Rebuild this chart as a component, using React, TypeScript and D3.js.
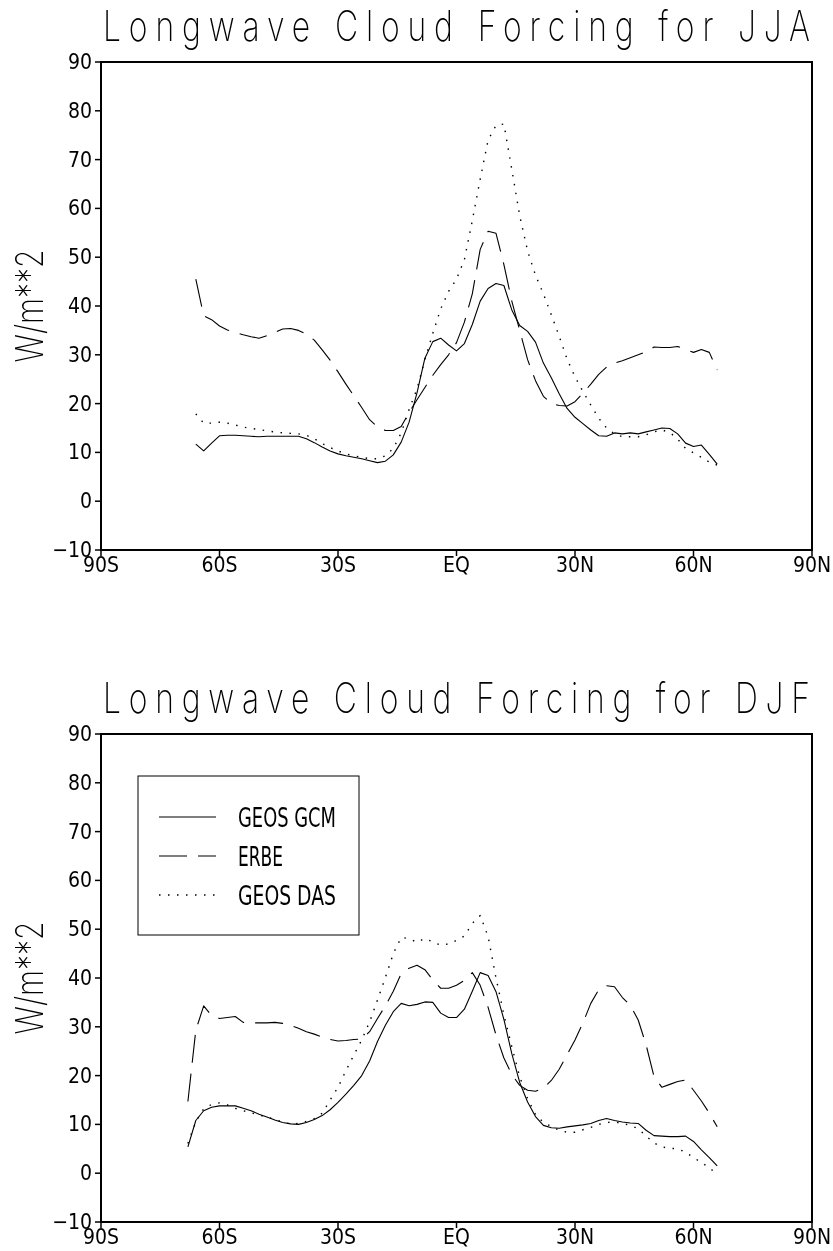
import React from "react";
import * as d3 from "d3";

// latitude grids (deg, S negative)
const latJJA = [
  -66, -64, -62, -60, -58, -56, -54, -52, -50, -48, -46, -44, -42, -40,
  -38, -36, -34, -32, -30, -28, -26, -24, -22, -20,
  -18, -16, -14, -12, -10, -8, -6, -4, -2, 0,
  2, 4, 6, 8, 10, 12, 14, 16, 18, 20,
  22, 24, 26, 28, 30, 32, 34, 36, 38, 40,
  42, 44, 46, 48, 50, 52, 54, 56, 58, 60, 62, 64, 66,
];
const gcmJJA = [
  11.7, 10.3, 11.9, 13.4, 13.5, 13.5, 13.4, 13.3, 13.2, 13.3, 13.3, 13.3, 13.3, 13.3,
  12.8, 12.0, 11.1, 10.3, 9.7, 9.3, 9.0, 8.7, 8.3, 7.9,
  8.2, 9.5, 12.1, 16.2, 22.2, 29.3, 32.7, 33.4, 32.0, 30.8,
  32.3, 36.2, 41.0, 43.6, 44.6, 44.2, 39.2, 36.0, 34.8, 32.6,
  28.3, 25.3, 22.0, 19.0, 17.2, 15.9, 14.6, 13.4, 13.3, 14.0,
  13.8, 14.0, 13.8, 14.2, 14.6, 15.0, 14.9, 13.8, 11.9, 11.2, 11.5, 9.6, 7.6,
];
const erbeJJA = [
  45.5, 38.0, 37.2, 35.9, 35.1, 34.6, 34.1, 33.7, 33.4, 33.9, 34.6, 35.3, 35.4, 35.0,
  34.2, 33.0, 31.0, 28.9, 26.5, 24.0, 21.6, 19.2, 16.7, 15.2,
  14.5, 14.5, 15.3, 18.2, 20.8, 23.3, 25.8, 28.0, 30.0, 32.5,
  36.7, 42.5, 51.6, 55.3, 54.9, 48.5, 41.0, 35.0, 29.0, 24.7,
  21.5, 20.0, 19.6, 19.5, 20.4, 22.1, 24.0, 26.0, 27.5, 28.3,
  28.8, 29.4, 30.0, 30.6, 31.6, 31.5, 31.5, 31.7, 31.1, 30.5, 31.1, 30.5, 26.9,
];
const dasJJA = [
  17.9, 16.0, 16.0, 16.2, 16.0, 15.6, 15.2, 14.9, 14.7, 14.4, 14.2, 14.0, 13.9, 13.8,
  13.5, 12.8, 11.8, 11.0, 10.3, 9.7, 9.3, 9.0, 8.7, 8.7,
  9.3, 10.8, 14.0, 18.8, 23.0, 29.0, 34.4, 39.4, 43.0, 45.5,
  49.5, 57.5, 66.0, 74.0, 77.0, 77.3, 68.0, 58.5, 51.3, 46.3,
  42.5, 38.2, 33.8, 29.1, 25.5, 22.5, 19.7, 17.0, 15.0, 13.8,
  13.2, 13.2, 13.2, 13.6, 14.2, 14.6, 14.1, 12.7, 10.8, 9.9, 9.0, 8.0, 7.4,
];

const latDJF = [
  -68, -66, -64, -62, -60, -58, -56, -54, -52, -50, -48, -46, -44, -42,
  -40, -38, -36, -34, -32, -30, -28, -26, -24, -22,
  -20, -18, -16, -14, -12, -10, -8, -6, -4, -2,
  0, 2, 4, 6, 8, 10, 12, 14, 16, 18,
  20, 22, 24, 26, 28, 30, 32, 34, 36, 38,
  40, 42, 44, 46, 48, 50, 52, 54, 56, 58, 60, 62, 64, 66,
];
const gcmDJF = [
  5.4, 10.8, 12.8, 13.5, 13.8, 13.8, 13.8, 13.3, 12.8, 12.1, 11.5, 10.9, 10.4, 10.1,
  10.0, 10.4, 11.0, 11.8, 13.0, 14.5, 16.2, 18.0, 20.0, 23.0,
  27.0, 30.3, 33.1, 34.8, 34.3, 34.6, 35.1, 35.0, 32.8, 31.9,
  31.9, 33.6, 37.3, 41.1, 40.5, 37.2, 31.5, 24.5, 18.6, 14.6,
  11.6, 9.8, 9.3, 9.2, 9.5, 9.7, 9.9, 10.2, 10.8, 11.2,
  10.8, 10.5, 10.3, 10.2, 8.8, 7.7, 7.6, 7.5, 7.5, 7.6, 6.5, 4.8, 3.2, 1.5,
];
const erbeDJF = [
  14.7, 29.3, 34.3, 32.3, 31.7, 31.9, 32.1, 30.9, 30.8, 30.8, 30.8, 30.9, 30.7, 30.3,
  29.7, 29.0, 28.5, 27.9, 27.4, 27.1, 27.2, 27.4, 27.5, 29.0,
  31.7, 34.3, 37.3, 40.9, 42.0, 42.6, 41.7, 39.6, 37.9, 37.9,
  38.5, 39.5, 41.1, 38.5, 34.0, 28.3, 23.6, 20.2, 18.0, 17.0,
  16.8, 17.4, 19.0, 21.3, 24.3, 27.3, 30.8, 34.8, 37.6, 38.4,
  38.2, 36.0, 34.4, 31.4, 26.3, 19.8, 17.6, 18.2, 18.8, 19.1, 17.0, 14.8, 12.3, 9.5,
];
const dasDJF = [
  6.1, 10.5, 13.2, 14.1, 14.4, 14.0, 13.3, 12.8, 12.4, 11.9, 11.5, 11.0, 10.5, 10.1,
  10.2, 10.6, 11.2, 12.3, 15.0, 17.6, 21.0, 24.2, 27.3, 31.0,
  35.5, 40.1, 45.0, 48.3, 48.1, 47.3, 48.1, 47.4, 46.7, 47.0,
  47.7, 48.6, 51.2, 52.8, 48.5, 40.0, 32.5, 25.9, 19.8, 15.3,
  12.0, 10.4, 9.6, 8.8, 8.4, 8.4, 8.9, 9.4, 10.0, 10.4,
  10.5, 10.2, 9.8, 9.1, 7.6, 6.2, 5.4, 5.1, 5.0, 4.3, 3.2, 2.2, 1.1, -0.2,
];

const seriesNames = ["GEOS GCM", "ERBE", "GEOS DAS"];
const xTicks = [-90, -60, -30, 0, 30, 60, 90];
const xTickLabels = ["90S", "60S", "30S", "EQ", "30N", "60N", "90N"];
const yTicks = [-10, 0, 10, 20, 30, 40, 50, 60, 70, 80, 90];

const W = 833;
const H = 1251;
const dashes = ["none", "28 11", "1.5 7.5"];
const tickFont = "'Liberation Sans Narrow', 'DejaVu Sans Condensed', sans-serif";
const thinFont = "Inter, Roboto, Lato, 'DejaVu Sans', sans-serif";

const x = d3.scaleLinear().domain([-90, 90]).range([101, 812]);

function Panel({ top, title, lats, series, legend }) {
  const y = d3.scaleLinear().domain([-10, 90]).range([top + 488, top]);
  const line = d3
    .line<number>()
    .x((_, i) => x(lats[i]))
    .y((v) => y(v));
  const x0 = x(-90);
  const x1 = x(90);
  const yMid = (y(90) + y(-10)) / 2;

  return (
    <g>
      <g transform={`translate(${x0 + 2},${top - 21}) scale(0.76,1)`}>
        <text
          x={0}
          y={0}
          fontFamily={thinFont}
          fontWeight={200}
          fontSize={42}
          fill="#000"
          textLength={(x1 - x0 - 4) / 0.76}
          lengthAdjust="spacing"
        >
          {title}
        </text>
      </g>
      <g transform={`translate(43,${yMid}) rotate(-90) scale(0.8,1)`}>
        <text
          x={0}
          y={0}
          textAnchor="middle"
          fontFamily={thinFont}
          fontWeight={200}
          fontSize={38}
          textLength={113 / 0.8}
          lengthAdjust="spacingAndGlyphs"
        >
          W/m**2
        </text>
      </g>

      {series.map((vals, k) => (
        <path
          key={k}
          d={line(vals) || ""}
          fill="none"
          stroke="#000"
          strokeWidth={k === 2 ? 1.4 : 1.1}
          strokeDasharray={dashes[k]}
          strokeLinejoin="round"
        />
      ))}

      <rect x={x0} y={y(90)} width={x1 - x0} height={y(-10) - y(90)} fill="none" stroke="#000" strokeWidth={2} />

      {yTicks.map((t) => (
        <g key={t}>
          <line x1={x0 - 6} x2={x0} y1={y(t)} y2={y(t)} stroke="#000" strokeWidth={1.5} />
          <text
            x={x0 - 9}
            y={y(t) + 7}
            textAnchor="end"
            fontFamily={tickFont}
            fontSize={21}
          >
            {t < 0 ? `\u2212${-t}` : t}
          </text>
        </g>
      ))}
      {xTicks.map((t, i) => (
        <g key={t}>
          <line x1={x(t)} x2={x(t)} y1={y(-10)} y2={y(-10) + 6} stroke="#000" strokeWidth={1.5} />
          <text
            x={x(t)}
            y={y(-10) + 22}
            textAnchor="middle"
            fontFamily={tickFont}
            fontSize={21}
          >
            {xTickLabels[i]}
          </text>
        </g>
      ))}

      {legend && (
        <g>
          <rect x={138} y={776} width={221} height={159} fill="#fff" stroke="#000" strokeWidth={1} />
          {seriesNames.map((name, k) => {
            const ly = 817 + k * 39;
            return (
              <g key={name}>
                <line x1={159} x2={216} y1={ly} y2={ly} stroke="#000" strokeWidth={k === 2 ? 1.4 : 1.1} strokeDasharray={dashes[k]} />
                <text
                  x={238}
                  y={ly + 10}
                  fontFamily={tickFont}
                  fontSize={27}
                  textLength={k === 1 ? 45 : 98}
                  lengthAdjust="spacingAndGlyphs"
                >
                  {name}
                </text>
              </g>
            );
          })}
        </g>
      )}
    </g>
  );
}

export default function App() {
  return (
    <svg
      width={W}
      height={H}
      style={{ position: "absolute", left: 0, top: 0, background: "#fff", filter: "grayscale(1)" }}
    >
      <rect width={W} height={H} fill="#fff" />
      <Panel
        top={62}
        title="Longwave Cloud Forcing for JJA"
        lats={latJJA}
        series={[gcmJJA, erbeJJA, dasJJA]}
        legend={false}
      />
      <Panel
        top={734}
        title="Longwave Cloud Forcing for DJF"
        lats={latDJF}
        series={[gcmDJF, erbeDJF, dasDJF]}
        legend={true}
      />
    </svg>
  );
}
